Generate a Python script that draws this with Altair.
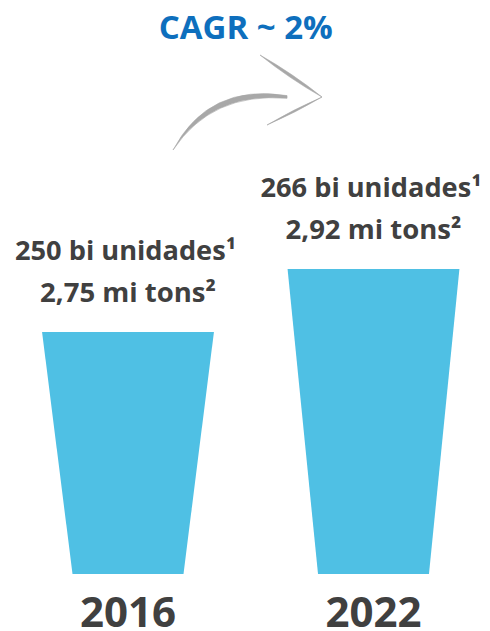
import altair as alt
import pandas as pd

# ---- data ----
years = ["2016", "2022"]
units_bi = [250, 266]
tons_mi = ["2,75", "2,92"]
cagr_label = "CAGR ~ 2%"

BASE = 188.5          # visual baseline of the cups (same units as units_bi)
HALF_TOP = 0.350      # cup half-width at the rim (category units)
HALF_BOTTOM = 0.226   # cup half-width at the foot (category units)

BLUE = "#4FC0E4"
TEXT = "#404040"
FONT = "Open Sans"

rows = []
for i, (yr, v) in enumerate(zip(years, units_bi)):
    rows.append(dict(year=yr, y=BASE, left=i - HALF_BOTTOM, right=i + HALF_BOTTOM))
    rows.append(dict(year=yr, y=v, left=i - HALF_TOP, right=i + HALF_TOP))
cups = pd.DataFrame(rows)

labels = pd.DataFrame(dict(
    idx=list(range(len(years))),
    year=years,
    value=units_bi,
    base=[BASE] * len(years),
    line1=[f"{v} bi unidades¹" for v in units_bi],
    line2=[f"{t} mi tons²" for t in tons_mi],
))
mid = pd.DataFrame(dict(idx=[sum(range(len(years))) / len(years)], label=[cagr_label]))

xs = alt.Scale(domain=[-0.4888, 1.442])
ys = alt.Scale(domain=[174.8, 332.3], zero=False)

cup = alt.Chart(cups).mark_area(orient="horizontal", color=BLUE).encode(
    y=alt.Y("y:Q", scale=ys, axis=None),
    x=alt.X("left:Q", scale=xs, axis=None),
    x2="right:Q",
    detail="year:N",
)

txt1 = alt.Chart(labels).mark_text(
    font=FONT, fontWeight="bold", fontSize=27.2, color=TEXT,
    baseline="alphabetic", dy=-72, dx=-2.5
).encode(x=alt.X("idx:Q", scale=xs), y=alt.Y("value:Q", scale=ys), text="line1:N")

txt2 = alt.Chart(labels).mark_text(
    font=FONT, fontWeight="bold", fontSize=27.5, color=TEXT,
    baseline="alphabetic", dy=-30
).encode(x=alt.X("idx:Q", scale=xs), y=alt.Y("value:Q", scale=ys), text="line2:N")

yr_txt = alt.Chart(labels).mark_text(
    font=FONT, fontWeight="bold", fontSize=42, color=TEXT,
    baseline="alphabetic", dy=53
).encode(x=alt.X("idx:Q", scale=xs), y=alt.Y("base:Q", scale=ys), text="year:N")

cagr = alt.Chart(mid).mark_text(
    font=FONT, fontWeight="bold", fontSize=33, color="#0E6FBD",
    baseline="alphabetic", dx=-5
).encode(x=alt.X("idx:Q", scale=xs), y=alt.value(31), text="label:N")

ARROW = (
    "M -1.036,0.633 Q -0.563,-0.26 0.484,-0.092 L 0.484,-0.056 Q -0.523,-0.14 -1.036,0.633 Z "
    "M 0.124,-0.633 Q 0.515,-0.32 0.950,-0.073 Q 0.559,-0.386 0.124,-0.633 Z "
    "M 0.950,-0.073 Q 0.595,0.136 0.217,0.300 Q 0.572,0.091 0.950,-0.073 Z"
)
arrow = alt.Chart(mid).mark_point(
    shape=ARROW, filled=True, size=22500, color="#A8A8A8", opacity=1,
    stroke="#A8A8A8", strokeWidth=0.6
).encode(x=alt.X("idx:Q", scale=xs), y=alt.value(94.5))

chart = alt.layer(cup, txt1, txt2, yr_txt, arrow, cagr).properties(
    width=474, height=620, padding=0,
    autosize=alt.AutoSizeParams(type="none"),
    background="white",
).configure_view(stroke=None)

chart.save("out.html", embed_options={"renderer": "svg", "actions": False})
